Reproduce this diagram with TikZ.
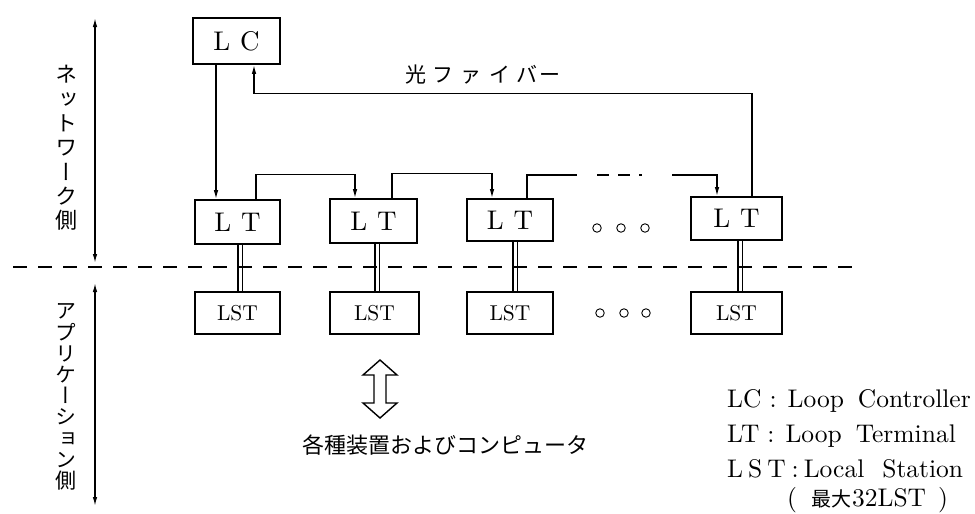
\documentclass[tikz,border=0pt]{standalone}
\usepackage{fontspec}
\newfontfamily\rmten{lmroman10-regular}[Extension=.otf]
\newfontfamily\jpfont{Noto Sans CJK JP}
\newfontfamily\jpvfont[RawFeature=+vert]{Noto Sans CJK JP}
\usetikzlibrary{arrows.meta}
\begin{document}
\begin{tikzpicture}[x=1pt,y=-1pt,
  box/.style={draw, line width=1.7pt, inner sep=0pt, minimum height=44pt},
  ltfont/.style={font=\rmten\fontsize{27}{31}\selectfont},
  lstfont/.style={font=\rmten\fontsize{21.5}{25}\selectfont},
  wire/.style={line width=1.3pt},
  arr/.style={wire, -{Latex[length=9pt,width=4.5pt]}},
  botharr/.style={line width=1.3pt, {Latex[length=9pt,width=4.5pt]}-{Latex[length=9pt,width=4.5pt]}},
  link/.style={double, double distance=3pt, line width=1.2pt},
  dot/.style={draw, circle, line width=0.9pt, minimum size=8.5pt, inner sep=0pt},
  legend/.style={anchor=west, inner sep=0pt, font=\rmten\fontsize{25.5}{29}\selectfont},
]
\useasboundingbox (0,0) rectangle (975,514);

% boxes
\node[box, ltfont, minimum width=87pt, minimum height=46pt] (LC) at (236.5,41) {L\hspace{10pt}C};
\node[box, ltfont, minimum width=85pt] (LT1) at (237.5,222) {L\hspace{10pt}T};
\node[box, ltfont, minimum width=87pt] (LT2) at (373.5,221) {L\hspace{10pt}T};
\node[box, ltfont, minimum width=86pt, minimum height=42pt] (LT3) at (510,220) {L\hspace{10pt}T};
\node[box, ltfont, minimum width=91pt, minimum height=43pt] (LT5) at (736.5,218.5) {L\hspace{10pt}T};

\node[box, lstfont, minimum width=85pt, minimum height=42pt] (LST1) at (237.5,313) {LST};
\node[box, lstfont, minimum width=89pt, minimum height=42pt] (LST2) at (374.5,313) {LST};
\node[box, lstfont, minimum width=86pt, minimum height=42pt] (LST3) at (510,313) {LST};
\node[box, lstfont, minimum width=91pt, minimum height=42pt] (LST5) at (736.5,313) {LST};

% LC to first LT
\draw[arr] ([xshift=-20.5pt]LC.south) -- ([xshift=-21.5pt]LT1.north);
% chain between LTs
\draw[arr] ([xshift=18.5pt]LT1.north) -- ++(0,-25) -| ([xshift=-18.5pt]LT2.north);
\draw[arr] ([xshift=18.5pt]LT2.north) -- ++(0,-25) -| ([xshift=-18pt]LT3.north);
\coordinate (g1) at (577,175);
\coordinate (g2) at (597,175);
\coordinate (g3) at (642,175);
\coordinate (g4) at (672,175);
\draw[wire] ([xshift=17pt]LT3.north) |- (g1);
\draw[wire, dash pattern=on 12pt off 9pt] (g2) -- (g3);
\draw[arr] (g4) -| ([xshift=-19.5pt]LT5.north);
% optical fiber return
\draw[arr] ([xshift=15.5pt]LT5.north) -- ++(0,-103) -| ([xshift=17.5pt]LC.south);
\node[font=\jpfont\fontsize{21}{24}\selectfont, inner sep=0pt] (fiber) at (483,75)
  {光\hspace{7pt}フ\hspace{7pt}ァ\hspace{7pt}イ\hspace{7pt}バ\hspace{2pt}ー};

% double links LT - LST
\draw[link] ([xshift=2.5pt]LT1.south) -- ([xshift=2.5pt]LST1.north);
\draw[link] ([xshift=3.5pt]LT2.south) -- ([xshift=2.5pt]LST2.north);
\draw[link] ([xshift=5pt]LT3.south) -- ([xshift=5pt]LST3.north);
\draw[link] ([xshift=3.5pt]LT5.south) -- ([xshift=3.5pt]LST5.north);

% ellipsis circles
\node[dot] (c1) at (597,228) {};
\node[dot] (c2) at (621,228) {};
\node[dot] (c3) at (645,228) {};
\node[dot] (c4) at (600,313) {};
\node[dot] (c5) at (624,313) {};
\node[dot] (c6) at (646,313) {};

% dashed boundary
\coordinate (d1) at (13,267);
\coordinate (d2) at (855,267);
\draw[line width=1.2pt, dash pattern=on 14pt off 11pt] (d1) -- (d2);

% side arrows
\coordinate (a1) at (95,18);
\coordinate (a2) at (95,263);
\coordinate (a3) at (95,283);
\coordinate (a4) at (95,506);
\draw[botharr] (a1) -- (a2);
\draw[botharr] (a3) -- (a4);
\node[font=\jpvfont\fontsize{22}{24.3}\selectfont, align=center, inner sep=0pt] (netside) at (66,148)
  {ネ\\ッ\\ト\\ワ\\ー\\ク\\側};
\node[font=\jpvfont\fontsize{21}{21.2}\selectfont, align=center, inner sep=0pt] (appside) at (66,397)
  {ア\\プ\\リ\\ケ\\ー\\シ\\ョ\\ン\\側};

% hollow double arrow
\draw[line width=1.4pt, line join=miter] (380,360) -- (397,375) -- (386,375) -- (386,403) -- (397,403)
  -- (380,418) -- (363,403) -- (374,403) -- (374,375) -- (363,375) -- cycle;
\node[font=\jpfont\fontsize{22}{26}\selectfont, inner sep=0pt] (dev) at (445,445) {各種装置およびコンピュータ};

% legend
\node[legend] (k1) at (727,401) {LC\hspace{8pt}:\hspace{11pt}Loop\hspace{14pt}Controller};
\node[legend] (k2) at (727,436) {LT\hspace{8pt}:\hspace{11pt}Loop\hspace{14pt}Terminal};
\node[legend] (k3) at (727,469) {L\kern5pt S\kern5pt T\hspace{6pt}:\hspace{5pt}Local\hspace{18pt}Station};
\node[legend] (k4) at (787,500) {(\hspace{14pt}{\jpfont\fontsize{20}{22}\selectfont 最大}\hspace{1pt}32LST\hspace{12pt})};
\end{tikzpicture}
\end{document}
